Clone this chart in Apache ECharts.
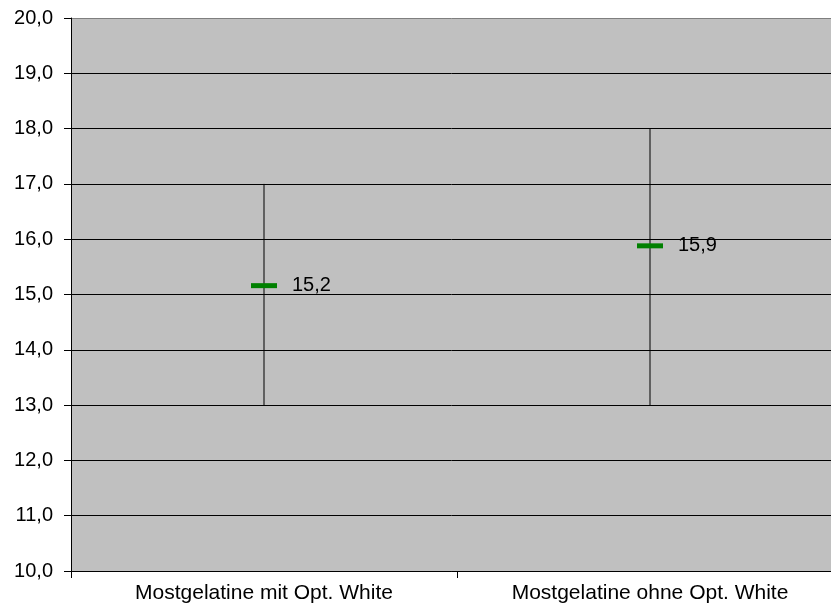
<!DOCTYPE html>
<html>
<head>
<meta charset="utf-8">
<script src="https://cdn.jsdelivr.net/npm/echarts@6/dist/echarts.min.js"></script>
<style>
html, body { margin: 0; padding: 0; background: #fff; overflow: hidden; }
#main { width: 831px; height: 609px; }
</style>
</head>
<body>
<div id="main"></div>
<script>
// Werte
var categories = ['Mostgelatine mit Opt. White', 'Mostgelatine ohne Opt. White'];
var means = [15.16, 15.88];
var lows = [13.0, 13.0];
var highs = [17.0, 18.0];
var yTicks = [10, 11, 12, 13, 14, 15, 16, 17, 18, 19, 20];

function fmt(v) {
    return Number(v).toFixed(1).replace('.', ',');
}

var rangeData = categories.map(function (c, i) { return [i, lows[i], highs[i]]; });
var meanData = categories.map(function (c, i) { return [i, means[i]]; });

// Gitterlinien: oberste grau, sonst schwarz
var splitColors = yTicks.map(function (t, i) { return i === yTicks.length - 1 ? '#7f7f7f' : '#000'; });

var myChart = echarts.init(document.getElementById('main'));
var option = {
    animation: false,
    textStyle: { fontFamily: 'Liberation Sans, Arial, sans-serif' },
    grid: {
        left: 71, top: 18, width: 772, height: 553,
        outerBoundsMode: 'none',
        containLabel: false,
        show: true,
        backgroundColor: '#c0c0c0',
        borderWidth: 0
    },
    xAxis: {
        type: 'category',
        data: categories,
        boundaryGap: true,
        axisLine: { lineStyle: { color: '#000', width: 1 } },
        axisTick: { show: true, length: 7, lineStyle: { color: '#000' } },
        axisLabel: { color: '#000', fontSize: 21, margin: 12 },
        splitLine: { show: false }
    },
    yAxis: {
        type: 'value',
        min: 10, max: 20, interval: 1,
        axisLine: { show: true, lineStyle: { color: '#000', width: 1 } },
        axisTick: { show: true, length: 7, lineStyle: { color: '#000' } },
        axisLabel: { color: '#000', fontSize: 20, margin: 18, formatter: fmt },
        splitLine: { show: true, lineStyle: { color: splitColors, width: 1 } }
    },
    series: [
        {
            type: 'custom',
            z: 2,
            data: rangeData,
            renderItem: function (params, api) {
                var top = api.coord([api.value(0), api.value(2)]);
                var bot = api.coord([api.value(0), api.value(1)]);
                return {
                    type: 'line',
                    shape: { x1: top[0], y1: top[1], x2: bot[0], y2: bot[1] },
                    style: { stroke: '#000', lineWidth: 1 }
                };
            }
        },
        {
            type: 'scatter',
            z: 3,
            data: meanData,
            symbol: 'rect',
            symbolSize: [26, 5],
            itemStyle: { color: '#008000', opacity: 1 },
            label: {
                show: true,
                position: 'right',
                distance: 15,
                color: '#000',
                fontSize: 20,
                formatter: function (p) { return fmt(p.value[1]); }
            }
        }
    ]
};
myChart.setOption(option);
</script>
</body>
</html>
